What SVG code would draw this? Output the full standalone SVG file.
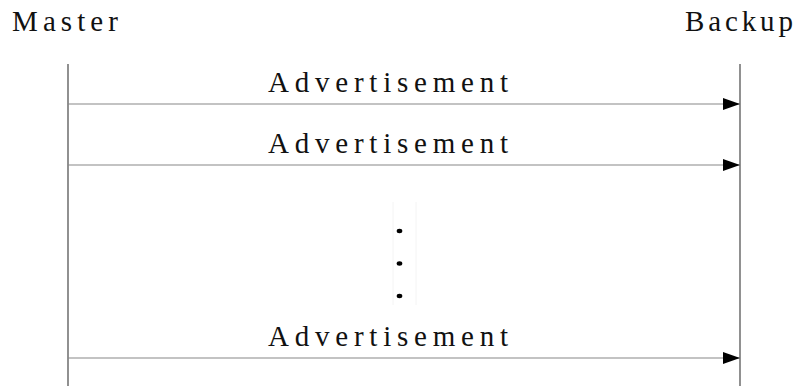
<svg xmlns="http://www.w3.org/2000/svg" width="798" height="386" viewBox="0 0 798 386">
<style>
text{font-family:"Liberation Serif","DejaVu Serif",serif;font-size:29px;fill:#111}
.life{stroke:#555;stroke-width:1.3}
.msg{stroke:#888;stroke-width:1.2;fill:none}
.dot{fill:#000}
</style>
<defs>
<marker id="ah" markerWidth="17" markerHeight="12" refX="17" refY="6" orient="auto" markerUnits="userSpaceOnUse">
<path d="M0,0 L17,6 L0,12 Z" fill="#000"/>
</marker>
</defs>
<rect width="798" height="386" fill="#fff"/>
<g id="master">
<text x="12" y="31" textLength="106" lengthAdjust="spacing">Master</text>
<line class="life" x1="68" y1="64" x2="68" y2="386"/>
</g>
<g id="backup">
<text x="685" y="31" textLength="108" lengthAdjust="spacing">Backup</text>
<line class="life" x1="740" y1="64" x2="740" y2="386"/>
</g>
<g id="connectors">
<line class="msg" x1="68" y1="104" x2="740" y2="104" marker-end="url(#ah)"/>
<line class="msg" x1="68" y1="165" x2="740" y2="165" marker-end="url(#ah)"/>
<line class="msg" x1="68" y1="358" x2="740" y2="358" marker-end="url(#ah)"/>
<text x="268" y="92" textLength="240" lengthAdjust="spacing">Advertisement</text>
<text x="268" y="153" textLength="240" lengthAdjust="spacing">Advertisement</text>
<text x="268" y="346" textLength="240" lengthAdjust="spacing">Advertisement</text>
</g>
<g id="ellipsis">
<line x1="393" y1="202" x2="393" y2="305" stroke="#f4f4f4" stroke-width="1"/>
<line x1="416" y1="202" x2="416" y2="305" stroke="#f4f4f4" stroke-width="1"/>
<ellipse class="dot" cx="399.5" cy="231" rx="2.8" ry="2.2"/>
<ellipse class="dot" cx="399.5" cy="263.5" rx="2.8" ry="2.2"/>
<ellipse class="dot" cx="399.5" cy="296" rx="2.8" ry="2.2"/>
</g>
</svg>
